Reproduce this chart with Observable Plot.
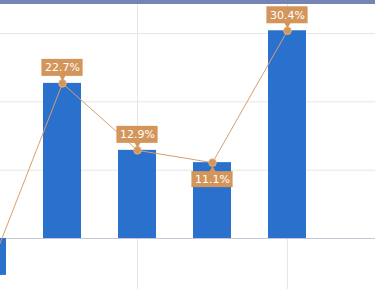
<!DOCTYPE html>
<html><head><meta charset="utf-8">
<script src="https://cdn.jsdelivr.net/npm/d3@7"></script>
<script src="https://cdn.jsdelivr.net/npm/@observablehq/plot@0.6"></script>
<style>
html,body{margin:0;padding:0;overflow:hidden;background:#fff;}
#wrap{position:relative;width:375px;height:289px;overflow:hidden;}
#topband{position:absolute;left:0;top:0;width:375px;height:4px;background:#7585b3;}
#chart svg{display:block;overflow:hidden;}
</style></head><body>
<div id="wrap"><div id="chart"></div><div id="topband"></div></div>
<script>
// data
const categories = ["2018", "2019", "2020", "2021", "2022"];
const values = [-5.4, 22.7, 12.9, 11.1, 30.4];
const yGridTicks = [0, 10, 20, 30];
const xGridCats = ["2018", "2020", "2022"];

const data = categories.map((c, i) => ({
  cat: c,
  value: values[i],
  label: values[i].toFixed(1) + "%",
  below: i > 0 && i < values.length - 1 && values[i] < values[i - 1] && values[i] < values[i + 1]
}));
// the first (negative) category lies outside the visible window: its label is off-canvas
const labelled = data.filter(d => d.value >= 0);
const above = labelled.filter(d => !d.below);
const belowD = labelled.filter(d => d.below);

const tan = "#d4955a";
const chart = Plot.plot({
  width: 375,
  height: 289,
  margin: 0,
  x: {type: "band", domain: categories, range: [-71.2, 345], padding: 0.5, axis: null},
  y: {domain: [0, 30], range: [238, 33], axis: null},
  marks: [
    Plot.gridY(yGridTicks.filter(t => t !== 0), {stroke: "#e6e6e6", strokeOpacity: 1}),
    Plot.gridX(xGridCats, {stroke: "#e6e6e6", strokeOpacity: 1}),
    Plot.ruleY([0], {stroke: "#c4c8d6"}),
    Plot.barY(data, {x: "cat", y: "value", fill: "#2a70cd"}),
    Plot.line(data, {x: "cat", y: "value", stroke: "#d6a070", strokeWidth: 1}),
    Plot.dot(data, {x: "cat", y: "value", r: 3.8, fill: tan, stroke: "#e2b285", strokeWidth: 1}),
    // label boxes above
    Plot.rect(above, {x: "cat", y1: "value", y2: "value", fill: tan, insetTop: -24, insetBottom: 7, insetLeft: -1.6, insetRight: -1.6}),
    Plot.dot(above, {x: "cat", y: "value", symbol: "triangle", r: 2.6, rotate: 180, dy: -6.5, fill: tan}),
    Plot.text(above, {x: "cat", y: "value", text: "label", dy: -15.5, fill: "white", fontSize: 11, fontFamily: "DejaVu Sans"}),
    // label boxes below
    Plot.rect(belowD, {x: "cat", y1: "value", y2: "value", fill: tan, insetTop: 9, insetBottom: -25, insetLeft: -1.6, insetRight: -1.6}),
    Plot.dot(belowD, {x: "cat", y: "value", symbol: "triangle", r: 2.6, dy: 7.5, fill: tan}),
    Plot.text(belowD, {x: "cat", y: "value", text: "label", dy: 17, fill: "white", fontSize: 11, fontFamily: "DejaVu Sans"})
  ]
});
document.getElementById("chart").appendChild(chart);
</script>
</body></html>
